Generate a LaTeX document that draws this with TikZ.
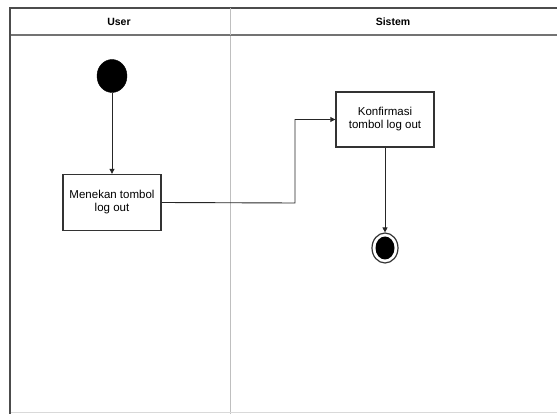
\documentclass[tikz,border=0pt]{standalone}
\usepackage{fontspec}
\setmainfont{Liberation Sans}
\usetikzlibrary{arrows.meta,shapes.geometric}
\begin{document}
\begin{tikzpicture}[x=1pt,y=-1pt,
  actbox/.style={draw=black!80,line width=1.4pt,fill=white,minimum width=98pt,minimum height=56pt,align=center,font=\fontsize{11.5}{13}\selectfont,inner sep=1pt},
  flow/.style={draw=black!85,line width=0.9pt,-{Triangle[length=5pt,width=5pt]}},
  hdr/.style={font=\bfseries\fontsize{10.5}{12}\selectfont}]
\useasboundingbox (0,0) rectangle (557,414);
% swimlane frame
\draw[black!25,line width=1pt] (230,36) -- (230,414);
\draw[black!15,line width=1pt] (10,412.5) -- (557,412.5);
\draw[black!55,line width=2pt] (10,35) -- (557,35);
\draw[black!70,line width=2pt] (10,414) -- (10,8) -- (557,8);
\draw[black!25,line width=1pt] (230,8) -- (230,35);
\node[hdr] (hu) at (119,22) {User};
\node[hdr] (hs) at (393,22) {Sistem};
% nodes
\node[draw=black,fill=black,ellipse,minimum width=30pt,minimum height=33pt,inner sep=0pt] (start) at (112,76) {};
\node[actbox] (a1) at (112,202.5) {Menekan tombol\\log out};
\node[actbox,minimum height=55pt] (a2) at (385,119.5) {Konfirmasi\\tombol log out};
\node[draw=black!80,line width=1.2pt,fill=white,ellipse,minimum width=26pt,minimum height=30pt,inner sep=0pt] (end) at (385,248) {};
\node[fill=black,ellipse,minimum width=19pt,minimum height=23pt,inner sep=0pt] (endin) at (385,248) {};
% connectors
\draw[flow] (start) -- (a1);
\draw[flow] (a1.east) -- (295,203) |- (a2.west);
\draw[flow] (a2) -- (end);
\end{tikzpicture}
\end{document}
